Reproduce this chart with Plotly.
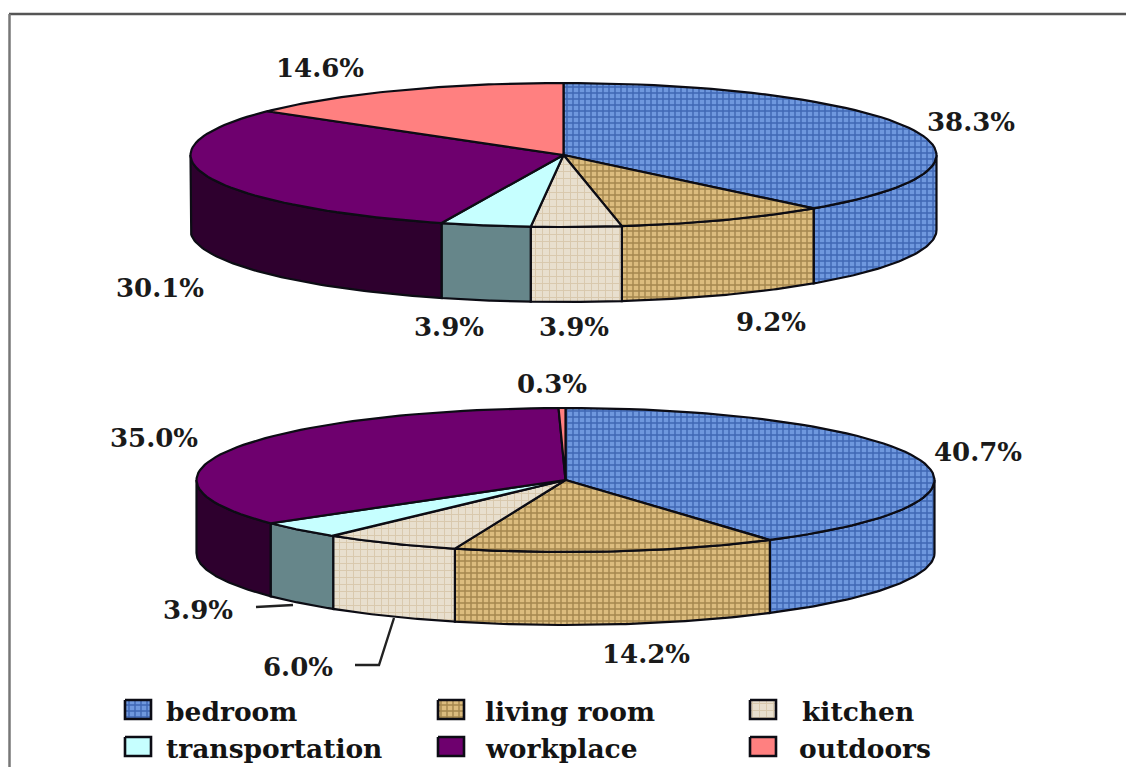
import numpy as np
import plotly.graph_objects as go

# Share of time per location, clockwise from 12 o'clock
categories = ["bedroom", "living room", "kitchen", "transportation", "workplace", "outdoors"]
upper_values = [38.3, 9.2, 3.9, 3.9, 30.1, 14.6]
lower_values = [40.7, 14.2, 6.0, 3.9, 35.0, 0.3]

# Pie geometry: centre x, centre y, x radius, y radius, rim depth
UPPER = (563.5, 155, 373, 72, 75)
LOWER = (565.5, 480, 369, 72, 73)

# Label anchor points, in the order of the value lists
upper_label_xy = [(971, 122), (771, 322), (574, 327), (449, 327), (160, 288), (320, 68)]
lower_label_xy = [(978, 452), (646, 654), (298, 667), (198, 610), (154, 438), (552, 384)]

# Legend layout: swatch left, swatch top, text left
legend_xy = [(125, 700, 164), (438, 700, 483), (750, 700, 800),
             (125, 737, 164), (438, 737, 483), (750, 737, 797)]

EDGE = "#0c0c14"
FONT = "DejaVu Serif"

styles = {
    "bedroom": dict(top="#6f98de", side="#6f98de", fg="#3f67b4", shape="+", size=6, sol=0.42),
    "living room": dict(top="#dcbc7e", side="#dcbc7e", fg="#a5874e", shape="+", size=6, sol=0.42),
    "kitchen": dict(top="#e8dfce", side="#e8dfce", fg="#d8c8ac", shape="+", size=7, sol=0.25),
    "transportation": dict(top="#c6ffff", side="#66868a"),
    "workplace": dict(top="#6e006e", side="#2e002e"),
    "outdoors": dict(top="#ff8080", side="#a04040"),
}

fig = go.Figure()


def add_poly(xs, ys, style, colour_key, width=2.2, edge=EDGE):
    kw = dict(fillcolor=style[colour_key])
    if "fg" in style:
        kw["fillpattern"] = dict(shape=style["shape"], size=style["size"], solidity=style["sol"],
                                 bgcolor=style[colour_key], fgcolor=style["fg"], fillmode="replace")
    fig.add_trace(go.Scatter(x=xs, y=ys, mode="lines", fill="toself", showlegend=False,
                             hoverinfo="skip", line=dict(color=edge, width=width), **kw))


def rim_points(geom, a, b, n=60):
    cx, cy, rx, ry, _ = geom
    t = np.radians(np.linspace(a, b, n))
    return cx + rx * np.sin(t), cy - ry * np.cos(t)


def draw_pie(values, geom):
    cx, cy, _, _, depth = geom
    total = sum(values)
    ends = np.cumsum(values) / total * 360
    starts = np.r_[0, ends[:-1]]
    # Visible rim walls sit on the front half of the ellipse
    for name, a, b in zip(categories, starts, ends):
        lo, hi = max(a, 90), min(b, 270)
        if hi > lo:
            x, y = rim_points(geom, lo, hi)
            add_poly(np.r_[x, x[::-1], x[0]], np.r_[y, y[::-1] + depth, y[0]], styles[name], "side")
    # Top faces
    for name, a, b in zip(categories, starts, ends):
        x, y = rim_points(geom, a, b)
        add_poly(np.r_[cx, x, cx], np.r_[cy, y, cy], styles[name], "top")


draw_pie(upper_values, UPPER)
draw_pie(lower_values, LOWER)

# Leader lines for the two small slices of the lower pie
for lx, ly in [([256, 293], [607, 605]), ([355, 379, 394], [665, 665, 618])]:
    fig.add_trace(go.Scatter(x=lx, y=ly, mode="lines", showlegend=False, hoverinfo="skip",
                             line=dict(color="#222", width=2.4)))

# Legend swatches
for name, (sx, sy, _) in zip(categories, legend_xy):
    add_poly([sx, sx + 26, sx + 26, sx, sx], [sy, sy, sy + 19, sy + 19, sy], styles[name], "top", width=2.6)

annotations = []
for values, places in [(upper_values, upper_label_xy), (lower_values, lower_label_xy)]:
    for v, (x, y) in zip(values, places):
        annotations.append(dict(x=x, y=y, text=f"{v:.1f}%", showarrow=False, xanchor="center", yanchor="middle",
                                font=dict(family=FONT, size=26, color="#1a1a1a", weight="bold")))
for name, (sx, sy, tx) in zip(categories, legend_xy):
    annotations.append(dict(x=tx, y=sy + 11, text=name, showarrow=False, xanchor="left", yanchor="middle",
                            font=dict(family=FONT, size=26.5, color="#141414", weight="bold")))

fig.update_layout(
    width=1126, height=767, margin=dict(l=0, r=0, t=0, b=0),
    paper_bgcolor="white", plot_bgcolor="white", showlegend=False, annotations=annotations,
    xaxis=dict(range=[0, 1126], visible=False, fixedrange=True),
    yaxis=dict(range=[767, 0], visible=False, fixedrange=True),
    shapes=[dict(type="line", x0=9, x1=1126, y0=14, y1=14, line=dict(color="#555", width=2.5)),
            dict(type="line", x0=9.5, x1=9.5, y0=14, y1=767, line=dict(color="#777", width=2.5))],
)

fig.write_html("out.html", config=dict(displayModeBar=False))
